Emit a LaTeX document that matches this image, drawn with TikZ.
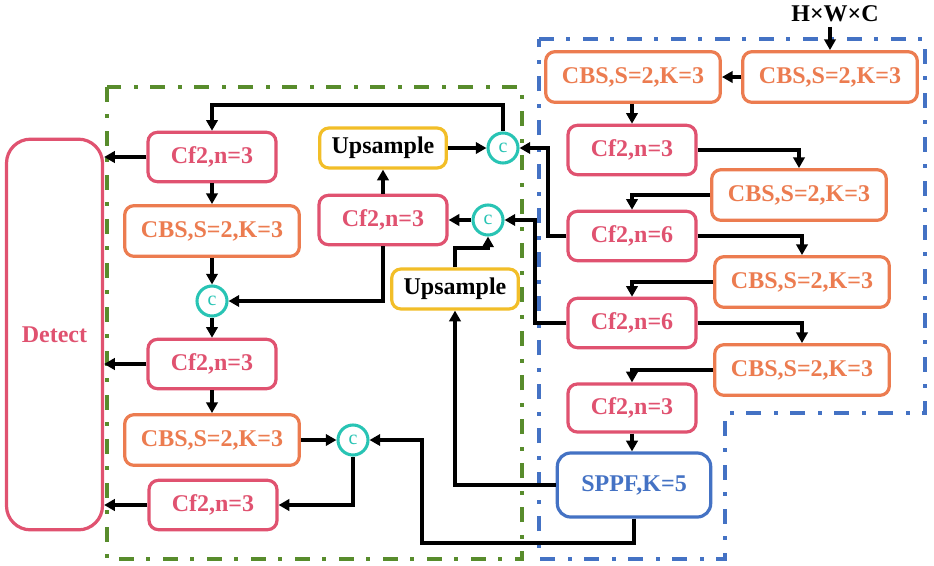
\documentclass[tikz,border=0pt]{standalone}
\usepackage{fontspec}
\setmainfont{Liberation Serif}
\usetikzlibrary{arrows.meta}
\definecolor{pinkc}{RGB}{224,82,112}
\definecolor{orangec}{RGB}{236,124,80}
\definecolor{goldc}{RGB}{242,190,40}
\definecolor{tealc}{RGB}{40,196,180}
\definecolor{bluec}{RGB}{68,114,196}
\definecolor{greenc}{RGB}{88,140,44}
\begin{document}
\begin{tikzpicture}[x=0.75pt,y=-0.75pt,
 box/.style={draw, line width=2.4pt, rounded corners=7pt, inner sep=0pt, font=\fontsize{18}{20}\selectfont\bfseries, align=center},
 cf/.style={box, draw=pinkc, text=pinkc, minimum width=96pt, minimum height=37pt},
 cbs/.style={box, draw=orangec, text=orangec, minimum width=131pt, minimum height=38pt},
 ups/.style={box, draw=goldc, text=black, minimum width=95pt, minimum height=30pt},
 cat/.style={circle, draw=tealc, text=tealc, line width=2.3pt, minimum size=22.5pt, inner sep=0pt, font=\fontsize{15}{15}\selectfont},
 arr/.style={draw=black, line width=2.8pt, -{Triangle[length=8pt,width=8.5pt]}},
 dd/.style={line width=2.6pt, dash pattern=on 11pt off 9.5pt on 3pt off 9.5pt}
]
\useasboundingbox (0,0) rectangle (934,565);
\fill[white] (0,0) rectangle (934,565);

% group frames
\draw[dd, draw=greenc] (107,87) rectangle (522,559);
\draw[dd, draw=bluec] (539,39) -- (925,39) -- (925,413) -- (725,413) -- (725,559) -- (539,559) -- cycle;

% Detect
\node[box, draw=pinkc, text=pinkc, minimum width=72pt, minimum height=293pt, rounded corners=18pt] (det) at (54.5,334.5) {Detect};

% left column
\node[cf] (A1) at (212,157) {Cf2,n=3};
\node[cbs] (A2) at (212,231) {CBS,S=2,K=3};
\node[cat] (c1) at (212,301) {c};
\node[cf] (A3) at (212,364) {Cf2,n=3};
\node[cbs] (A4) at (212,440) {CBS,S=2,K=3};
\node[cat] (c3) at (353,440) {c};
\node[cf] (A5) at (213,505) {Cf2,n=3};

% middle column
\node[ups] (Up1) at (383,148) {Upsample};
\node[cat] (ctop) at (503,148) {c};
\node[cf] (M1) at (383,220) {Cf2,n=3};
\node[cat] (cmid) at (488,220) {c};
\node[ups] (Up2) at (455,289) {Upsample};

% backbone
\node[font=\fontsize{18}{20}\selectfont\bfseries] (hwc) at (835,14) {H×W×C};
\node[cbs] (R1) at (830,77) {CBS,S=2,K=3};
\node[cbs] (R2) at (633,77) {CBS,S=2,K=3};
\node[cf] (R3) at (632,150) {Cf2,n=3};
\node[cbs] (R4) at (799,195) {CBS,S=2,K=3};
\node[cf] (R5) at (632,236) {Cf2,n=6};
\node[cbs] (R6) at (802,282) {CBS,S=2,K=3};
\node[cf] (R7) at (632,323) {Cf2,n=6};
\node[cbs] (R8) at (802,370) {CBS,S=2,K=3};
\node[cf, minimum height=36pt] (R9) at (632,408) {Cf2,n=3};
\node[box, draw=bluec, text=bluec, minimum width=115pt, minimum height=48pt, rounded corners=10pt] (sppf) at (634,485) {SPPF,K=5};

% helper coordinates
\coordinate (k1) at (422,543);
\coordinate (k2) at (548,148);
\coordinate (k3) at (535,220);
\coordinate (k4) at (488,248);
\coordinate (k5) at (503,105);

% backbone connectors
\draw[arr] (hwc.south -| R1.north) -- (R1.north);
\draw[arr] (R1.west) -- (R2.east);
\draw[arr] (R3.north |- R2.south) -- (R3.north);
\draw[arr] (R3.east) -| (R4.north);
\draw[arr] (R4.west) -| (R5.north);
\draw[arr] (R5.east) -| (R6.north);
\draw[arr] (R6.west) -| (R7.north);
\draw[arr] (R7.east) -| (R8.north);
\draw[arr] (R8.west) -| (R9.north);
\draw[arr] (R9.south) -- (R9.south |- sppf.north);

% neck connectors
\draw[arr] (sppf.west) -| (Up2.south);
\draw[arr] (sppf.south) |- (k1) |- (c3.east);
\draw[arr] (R5.west) -| (k2) -- (ctop.east);
\draw[arr] (R7.west) -| (k3) -- (cmid.east);
\draw[arr] (Up2.north) |- (k4) -- (cmid.south);
\draw[arr] (cmid.west) -- (M1.east);
\draw[arr] (M1.north) -- (Up1.south);
\draw[arr] (Up1.east) -- (ctop.west);
\draw[arr] (ctop.north) -- (k5) -| (A1.north);
\draw[arr] (M1.south) |- (c1.east);

% left column connectors
\draw[arr] (A1.west) -- (A1.west -| det.east);
\draw[arr] (A1.south) -- (A2.north);
\draw[arr] (A2.south) -- (c1.north);
\draw[arr] (c1.south) -- (A3.north);
\draw[arr] (A3.west) -- (A3.west -| det.east);
\draw[arr] (A3.south) -- (A4.north);
\draw[arr] (A4.east) -- (c3.west);
\draw[arr] (c3.south) |- (A5.east);
\draw[arr] (A5.west) -- (A5.west -| det.east);
\end{tikzpicture}
\end{document}
